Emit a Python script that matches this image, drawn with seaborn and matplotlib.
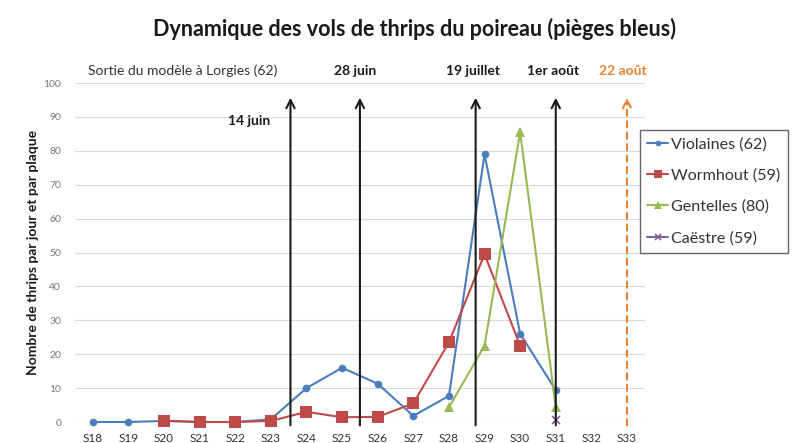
import matplotlib
matplotlib.use("Agg")
import matplotlib.pyplot as plt
import seaborn as sns
import numpy as np
from matplotlib.lines import Line2D

weeks = list(range(18, 34))
week_labels = [f"S{w}" for w in weeks]

violaines_w = [18, 19, 20, 21, 22, 23, 24, 25, 26, 27, 28, 29, 30, 31]
violaines_v = [0, 0, 0.3, 0, 0, 0.8, 10, 16, 11.3, 1.8, 7.7, 79, 26, 9.4]
wormhout_w = [20, 21, 22, 23, 24, 25, 26, 27, 28, 29, 30]
wormhout_v = [0.4, 0, 0, 0.3, 3, 1.4, 1.5, 5.5, 23.5, 49.5, 22.5]
gentelles_w = [28, 29, 30, 31]
gentelles_v = [4.3, 22.5, 85.5, 4.4]
caestre_w = [31]
caestre_v = [0.5]

events_x = [23.55, 25.5, 28.75, 31.0, 33.0]
events_lbl = ["14 juin", "28 juin", "19 juillet", "1er août", "22 août"]

sns.set_theme(style="white")
plt.rcParams['font.family'] = ['Lato', 'DejaVu Sans']

fig = plt.figure(figsize=(7.93, 4.43), dpi=100)
ax = fig.add_axes([0.0946, 0.0474, 0.7185, 0.7652])

series = [
    ("Violaines (62)", violaines_w, violaines_v, "#4A7EBB", "o", 5.5),
    ("Wormhout (59)", wormhout_w, wormhout_v, "#BE4B48", "s", 8.5),
    ("Gentelles (80)", gentelles_w, gentelles_v, "#98B954", "^", 7),
    ("Caëstre (59)", caestre_w, caestre_v, "#7D60A0", "x", 6),
]

for name, xw, yv, col, mk, ms in series:
    sns.lineplot(x=xw, y=yv, ax=ax, color=col, marker=mk, markersize=ms,
                 markeredgecolor=col, markeredgewidth=1.2 if mk == "x" else 0,
                 linewidth=1.5, clip_on=False, zorder=3, legend=False)

ax.set_xlim(17.5, 33.5)
ax.set_ylim(0, 100)
ax.set_yticks(range(0, 101, 10))
ax.set_xticks(weeks)
ax.set_xticklabels(week_labels)
ax.tick_params(axis='x', labelsize=8.5, colors="#333333", pad=8, length=0)
ax.tick_params(axis='y', labelsize=7.5, colors="#777777", pad=10, length=0)
ax.grid(axis='y', color="#D9D9D9", linewidth=0.8)
for s in ax.spines.values():
    s.set_visible(False)
ax.axhline(0, color="#D9D9D9", linewidth=0.8, zorder=0)

for i, (ex, lbl) in enumerate(zip(events_x, events_lbl)):
    orange = (i == len(events_x) - 1)
    col = "#E8822F" if orange else "#1A1A1A"
    ax.annotate("", xy=(ex, 96.5), xytext=(ex, -1.8),
                xycoords='data', textcoords='data', annotation_clip=False,
                arrowprops=dict(arrowstyle="->,head_length=0.5,head_width=0.25",
                                color=col, lw=1.5,
                                linestyle=(0, (3, 2.5)) if orange else "-"),
                zorder=4)

ax.text(22.4, 88.8, events_lbl[0], ha="center", va="center", fontsize=10,
        fontweight="bold", color="#1A1A1A")
label_pos = [25.37, 28.68, 30.93, 32.89]
for xp, lbl, col in zip(label_pos, events_lbl[1:], ["#1A1A1A"] * 3 + ["#E8822F"]):
    ax.text(xp, 103.5, lbl, ha="center", va="center", fontsize=10,
            fontweight="bold", color=col, clip_on=False)
ax.text(20.53, 103.5, "Sortie du modèle à Lorgies (62)", ha="center", va="center",
        fontsize=10, color="#333333", clip_on=False)

ax.set_ylabel("Nombre de thrips par jour et par plaque", fontsize=10,
              fontweight="bold", color="#1A1A1A", labelpad=3)
ax.set_xlabel("")

fig.suptitle("Dynamique des vols de thrips du poireau (pièges bleus)",
             x=0.523, y=0.96, fontsize=15.5, fontweight="bold", color="#1A1A1A")

handles = [Line2D([0], [0], color=c, marker=m, markersize=s * 0.75,
                  markeredgecolor=c, markeredgewidth=1.2 if m == "x" else 0,
                  linewidth=1.5, label=n)
           for n, _, _, c, m, s in series]
leg = fig.legend(handles=handles, loc="upper left",
                 bbox_to_anchor=(640 / 793, 1 - 130 / 443),
                 fontsize=11.6, frameon=True, fancybox=False,
                 handlelength=1.3, handletextpad=0.2, labelspacing=1.05,
                 borderpad=0.45, borderaxespad=0, edgecolor="#404040")
leg.get_frame().set_linewidth(1.0)
for t in leg.get_texts():
    t.set_color("#333333")

fig.savefig("out.png", dpi=100, facecolor="white")
